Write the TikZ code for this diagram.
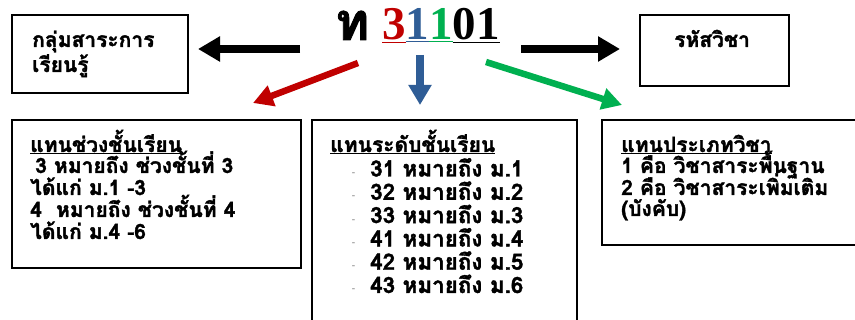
\documentclass[tikz,border=0pt]{standalone}
\usepackage{fontspec}
\usetikzlibrary{arrows.meta}
\newfontfamily\thaifont[Script=Thai,BoldFeatures={FakeBold=1.6}]{Loma}
\newfontfamily\serifbold{Liberation Serif}
\definecolor{cred}{HTML}{C00000}
\definecolor{cblue}{HTML}{2F5D96}
\definecolor{cgreen}{HTML}{00B050}
\newcommand{\dashitem}{\makebox[18pt][l]{\raisebox{1pt}{\normalfont\fontsize{10}{12}\selectfont\color{black!70}-}}}
\begin{document}
\begin{tikzpicture}[x=1pt,y=-1pt]
\tikzset{
  box/.style={draw,line width=1.8pt,anchor=north west,inner sep=0pt},
  txt/.style={anchor=base west,inner sep=0pt,font=\thaifont\bfseries\fontsize{21}{23}\selectfont},
  txtb/.style={anchor=base west,inner sep=0pt,font=\thaifont\bfseries\fontsize{22.4}{24}\selectfont},
  fat/.style={line width=8pt,-{Triangle[width=24pt,length=22pt]}},
  slim/.style={line width=6.5pt,-{Triangle[width=21pt,length=20pt]}},
}
\useasboundingbox[fill=white] (0,0) rectangle (855,320);
\clip (0,0) rectangle (855,320);

% boxes
\node[box,minimum width=176pt,minimum height=78pt] (b1) at (11,14) {};
\node[box,minimum width=149pt,minimum height=71pt] (bc) at (639,14) {};
\node[box,minimum width=289pt,minimum height=148pt] (b2) at (11,119) {};
\node[box,minimum width=265pt,minimum height=230pt] (b3) at (311,119) {};
\node[box,minimum width=280pt,minimum height=125pt] (b4) at (601,119) {};

% title
\node[anchor=base west,inner sep=0pt,font=\thaifont\bfseries\fontsize{52}{52}\selectfont] (tho) at (335,40) {ท};
\node[anchor=base west,inner sep=0pt,font=\serifbold\bfseries\fontsize{47}{47}\selectfont] (code) at (382,40)
  {\textcolor{cred}{$\underline{\hbox{3}}$}\textcolor{cblue}{$\underline{\hbox{1}}$}\textcolor{cgreen}{$\underline{\hbox{1}}$}$\underline{\hbox{01}}$};

% box texts
\node[txt] (t1a) at (32,47) {กลุ่มสาระการ};
\node[txt] (t1b) at (32,72) {เรียนรู้};
\node[txt] (tc) at (674,47) {รหัสวิชา};

\node[txt] (t2a) at (30,152) {\underline{แทนช่วงชั้นเรียน}};
\node[txt] (t2b) at (35,173) {3 หมายถึง ช่วงชั้นที่ 3};
\node[txt] (t2c) at (30,195) {ได้แก่ ม.1 -3};
\node[txt] (t2d) at (30,217) {4~ หมายถึง ช่วงชั้นที่ 4};
\node[txt] (t2e) at (30,239) {ได้แก่ ม.4 -6};

\node[txt] (t3a) at (330,152) {\underline{แทนระดับชั้นเรียน}};
\node[txtb] (t3b) at (352,176.5) {\dashitem 31 หมายถึง ม.1};
\node[txtb] (t3c) at (352,199.8) {\dashitem 32 หมายถึง ม.2};
\node[txtb] (t3d) at (352,223.1) {\dashitem 33 หมายถึง ม.3};
\node[txtb] (t3e) at (352,246.4) {\dashitem 41 หมายถึง ม.4};
\node[txtb] (t3f) at (352,269.7) {\dashitem 42 หมายถึง ม.5};
\node[txtb] (t3g) at (352,293) {\dashitem 43 หมายถึง ม.6};

\node[txt] (t4a) at (621,152) {\underline{แทนประเภทวิชา}};
\node[txt] (t4b) at (621,173) {1 คือ วิชาสาระพื้นฐาน};
\node[txt] (t4c) at (621,195) {2 คือ วิชาสาระเพิ่มเติม};
\node[txt] (t4d) at (621,216) {(บังคับ)};

% arrows
\coordinate (la1) at (300,49);  \coordinate (la2) at (198,49);
\coordinate (ra1) at (521,49);  \coordinate (ra2) at (620,49);
\coordinate (rd1) at (358,63);  \coordinate (rd2) at (253,103);
\coordinate (bl1) at (420,55);  \coordinate (bl2) at (420,105);
\coordinate (gr1) at (486,62);  \coordinate (gr2) at (622,105);
\draw[fat] (la1) -- (la2);
\draw[fat] (ra1) -- (ra2);
\draw[slim,cred] (rd1) -- (rd2);
\draw[fat,cblue,-{Triangle[width=22pt,length=20pt]}] (bl1) -- (bl2);
\draw[slim,cgreen] (gr1) -- (gr2);
\end{tikzpicture}
\end{document}
